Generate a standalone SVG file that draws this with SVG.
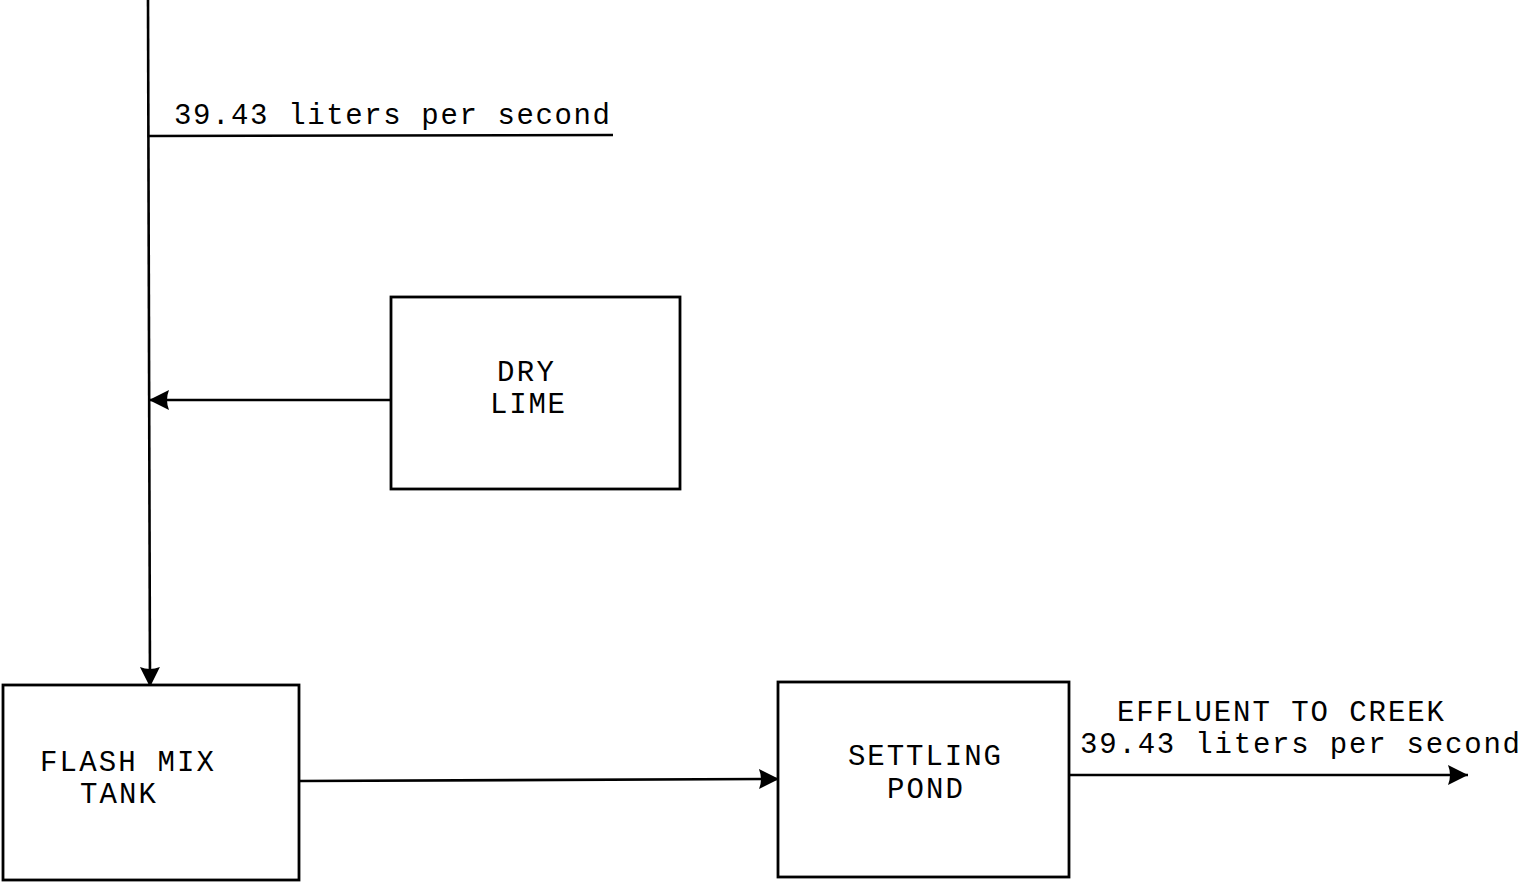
<svg xmlns="http://www.w3.org/2000/svg" width="1521" height="882" viewBox="0 0 1521 882">
<style>
.box{fill:#fff;stroke:#000;stroke-width:2.8}
.ln{fill:none;stroke:#000;stroke-width:2.6}
text{font-family:"Liberation Mono","Courier New",monospace;font-size:29px;fill:#000}
</style>
<defs>
<marker id="ah" markerWidth="24" markerHeight="24" refX="20" refY="12" orient="auto" markerUnits="userSpaceOnUse">
<path d="M0,2 L20,12 L0,22 Q4,12 0,2 Z" fill="#000"/>
</marker>
</defs>
<rect width="1521" height="882" fill="#fff"/>
<g id="connectors">
<line class="ln" x1="148" y1="0" x2="150" y2="687" marker-end="url(#ah)"/>
<line class="ln" x1="148" y1="136" x2="613" y2="135"/>
<line class="ln" x1="391" y1="400" x2="149" y2="400" marker-end="url(#ah)"/>
<line class="ln" x1="299" y1="781" x2="779" y2="779" marker-end="url(#ah)"/>
<line class="ln" x1="1069" y1="775" x2="1468" y2="775" marker-end="url(#ah)"/>
</g>
<text x="174" y="124" textLength="436">39.43 liters per second</text>
<g id="dry-lime">
<rect class="box" x="391" y="297" width="289" height="192"/>
<text x="497" y="381" textLength="57">DRY</text>
<text x="490" y="413" textLength="75">LIME</text>
</g>
<g id="flash-mix-tank">
<rect class="box" x="3" y="685" width="296" height="195"/>
<text x="40" y="771" textLength="174">FLASH MIX</text>
<text x="80" y="803" textLength="76">TANK</text>
</g>
<g id="settling-pond">
<rect class="box" x="778" y="682" width="291" height="195"/>
<text x="848" y="765" textLength="153">SETTLING</text>
<text x="887" y="798" textLength="76">POND</text>
</g>
<g id="effluent-label">
<text x="1117" y="721" textLength="327">EFFLUENT TO CREEK</text>
<text x="1080" y="753" textLength="440">39.43 liters per second</text>
</g>
</svg>
